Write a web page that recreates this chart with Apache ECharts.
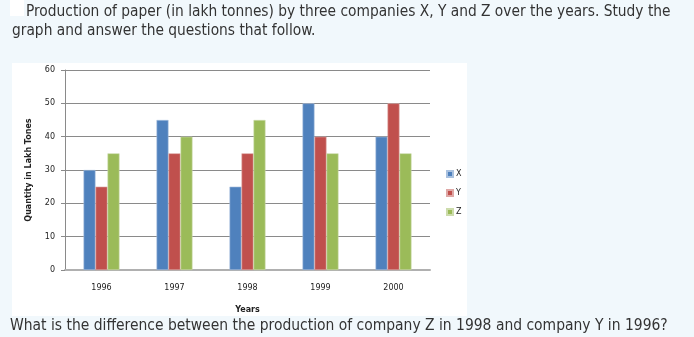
<!DOCTYPE html>
<html>
<head>
<meta charset="utf-8">
<script src="https://cdn.jsdelivr.net/npm/echarts@6/dist/echarts.min.js"></script>
<style>
  html, body { margin: 0; padding: 0; background: #f1f8fc; }
  #chart { width: 694px; height: 337px; }
</style>
</head>
<body>
<div id="chart"></div>
<script>
// Paper production (lakh tonnes) of companies X, Y and Z
const years = ['1996', '1997', '1998', '1999', '2000'];
const companyX = [30, 45, 25, 50, 40];
const companyY = [25, 35, 35, 40, 50];
const companyZ = [35, 40, 45, 35, 35];
const seriesNames = ['X', 'Y', 'Z'];
const seriesColors = ['#4f81bd', '#c0504d', '#9bbb59'];
const borderColors = ['#a9c1df', '#dfa8a6', '#cddcac'];

const titleFont = '"Liberation Sans Narrow", "DejaVu Sans Condensed", sans-serif';
const axisFont = '"DejaVu Sans", Verdana, sans-serif';

const chart = echarts.init(document.getElementById('chart'), null, { renderer: 'canvas' });

const seriesData = [companyX, companyY, companyZ];

function paragraph(text, x, y, sx) {
  return {
    type: 'text', x: x, y: y, scaleX: sx,
    style: { text: text, font: '16px ' + titleFont, fill: '#333333', verticalAlign: 'top' }
  };
}

chart.setOption({
  backgroundColor: '#f1f8fc',
  animation: false,
  graphic: [
    { type: 'rect', z: -10, shape: { x: 10, y: 0, width: 14, height: 16 }, style: { fill: '#ffffff' } },
    { type: 'rect', z: -10, shape: { x: 12, y: 63, width: 455, height: 253 }, style: { fill: '#ffffff' } },
    paragraph('Production of paper (in lakh tonnes) by three companies X, Y and Z over the years. Study the', 26, 4, 0.958),
    paragraph('graph and answer the questions that follow.', 12, 23, 0.958),
    paragraph('What is the difference between the production of company Z in 1998 and company Y in 1996?', 10, 318, 0.966)
  ],
  legend: {
    orient: 'vertical',
    left: 446,
    top: 170,
    padding: 0,
    itemWidth: 6,
    itemHeight: 6,
    itemGap: 11,
    icon: 'rect',
    textStyle: { fontFamily: axisFont, fontSize: 8, color: '#222', padding: [0, 0, 0, -2] },
    data: seriesNames
  },
  grid: { left: 65, right: 264, top: 70, bottom: 67, containLabel: false },
  xAxis: {
    type: 'category',
    data: years,
    name: 'Years',
    nameLocation: 'middle',
    nameGap: 36,
    nameTextStyle: { fontFamily: axisFont, fontSize: 8, fontWeight: 'bold', color: '#222' },
    axisLine: { lineStyle: { color: '#b0b0b0', width: 2 } },
    axisTick: { show: false },
    axisLabel: { fontFamily: axisFont, fontSize: 8, color: '#222', margin: 14 }
  },
  yAxis: {
    type: 'value',
    min: 0,
    max: 60,
    interval: 10,
    name: 'Quantity in Lakh Tones',
    nameLocation: 'middle',
    nameGap: 32,
    nameTextStyle: { fontFamily: axisFont, fontSize: 8, fontWeight: 'bold', color: '#222' },
    axisLine: { show: true, lineStyle: { color: '#8a8a8a', width: 1 } },
    axisTick: { show: true, length: 4, lineStyle: { color: '#8a8a8a' } },
    axisLabel: { fontFamily: axisFont, fontSize: 8, color: '#222', margin: 10 },
    splitLine: { lineStyle: { color: '#8a8a8a', width: 1 } }
  },
  series: seriesNames.map((name, i) => ({
    name: name,
    type: 'bar',
    data: seriesData[i],
    barWidth: 12,
    barGap: '0%',
    itemStyle: { color: seriesColors[i], borderColor: borderColors[i], borderWidth: 0.6 }
  }))
});
</script>
</body>
</html>
